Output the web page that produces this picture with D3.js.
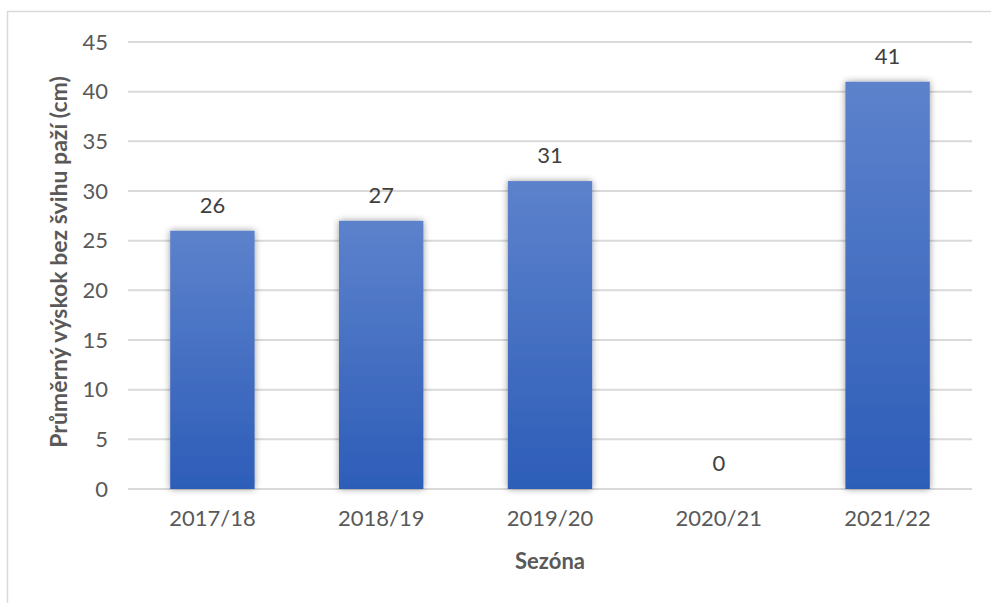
<!DOCTYPE html>
<html>
<head>
<meta charset="utf-8">
<script src="https://cdn.jsdelivr.net/npm/d3@7"></script>
<style>
  html, body { margin: 0; padding: 0; background: #fff; }
  svg { display: block; font-family: Lato, "Open Sans", sans-serif; }
</style>
</head>
<body>
<svg id="chart" width="991" height="603"></svg>
<script>
// Average standing jump per season
const seasons = ["2017/18", "2018/19", "2019/20", "2020/21", "2021/22"];
const jumpValues = [26, 27, 31, 0, 41];
const yTicks = [0, 5, 10, 15, 20, 25, 30, 35, 40, 45];
const yTitle = "Průměrný výskok bez švihu paží (cm)";
const xTitle = "Sezóna";

const svg = d3.select("#chart");
const W = 991, H = 603;
const plot = { left: 128, right: 972, top: 42, bottom: 489 };

const defs = svg.append("defs");
const grad = defs.append("linearGradient")
  .attr("id", "barGrad").attr("x1", 0).attr("y1", 0).attr("x2", 0).attr("y2", 1);
grad.append("stop").attr("offset", "0%").attr("stop-color", "#5d82cc");
grad.append("stop").attr("offset", "100%").attr("stop-color", "#2d5db8");

const shadow = defs.append("filter").attr("id", "barShadow")
  .attr("x", "-20%").attr("y", "-10%").attr("width", "140%").attr("height", "120%");
shadow.append("feDropShadow")
  .attr("dx", 0).attr("dy", 0).attr("stdDeviation", 3.5)
  .attr("flood-color", "#000").attr("flood-opacity", 0.4);

// chart frame
svg.append("rect")
  .attr("x", 7.5).attr("y", 11.5).attr("width", W).attr("height", H)
  .attr("fill", "#fff").attr("stroke", "#d9d9d9").attr("stroke-width", 1.5);

const x = d3.scaleBand().domain(seasons).range([plot.left, plot.right]).paddingInner(0.5).paddingOuter(0.25);
const y = d3.scaleLinear().domain([0, 45]).range([plot.bottom, plot.top]);

// gridlines
svg.append("g")
  .selectAll("line").data(yTicks).join("line")
  .attr("x1", plot.left).attr("x2", plot.right)
  .attr("y1", d => y(d)).attr("y2", d => y(d))
  .attr("stroke", "#d9d9d9").attr("stroke-width", 2);

// y axis labels
const yAxis = d3.axisLeft(y).tickValues(yTicks).tickSize(0).tickPadding(0);
const yg = svg.append("g").attr("transform", `translate(${plot.left - 20},0)`).call(yAxis);
yg.select(".domain").remove();
yg.selectAll("text").attr("font-size", 22).attr("fill", "#595959")
  .attr("font-family", "Lato, sans-serif");

// bars
svg.append("g")
  .selectAll("rect").data(seasons).join("rect")
  .attr("x", d => x(d))
  .attr("width", x.bandwidth())
  .attr("y", (d, i) => y(jumpValues[i]))
  .attr("height", (d, i) => y(0) - y(jumpValues[i]))
  .attr("fill", "url(#barGrad)")
  .attr("filter", "url(#barShadow)");

// value labels
svg.append("g")
  .selectAll("text").data(seasons).join("text")
  .attr("x", d => x(d) + x.bandwidth() / 2)
  .attr("y", (d, i) => y(jumpValues[i]) - 18)
  .attr("text-anchor", "middle")
  .attr("font-size", 22).attr("fill", "#404040")
  .text((d, i) => jumpValues[i]);

// x axis labels
const xAxis = d3.axisBottom(x).tickSize(0).tickPadding(0);
const xg = svg.append("g").attr("transform", `translate(0,${plot.bottom + 21})`).call(xAxis);
xg.select(".domain").remove();
xg.selectAll("text").attr("font-size", 22).attr("fill", "#595959")
  .attr("font-family", "Lato, sans-serif");

// axis titles
svg.append("text")
  .attr("transform", `translate(67,262) rotate(-90)`)
  .attr("text-anchor", "middle")
  .attr("font-size", 23).attr("font-weight", "bold").attr("fill", "#595959")
  .text(yTitle);

svg.append("text")
  .attr("x", (plot.left + plot.right) / 2).attr("y", 569)
  .attr("text-anchor", "middle")
  .attr("font-size", 22).attr("font-weight", "bold").attr("fill", "#595959")
  .text(xTitle);
</script>
</body>
</html>
